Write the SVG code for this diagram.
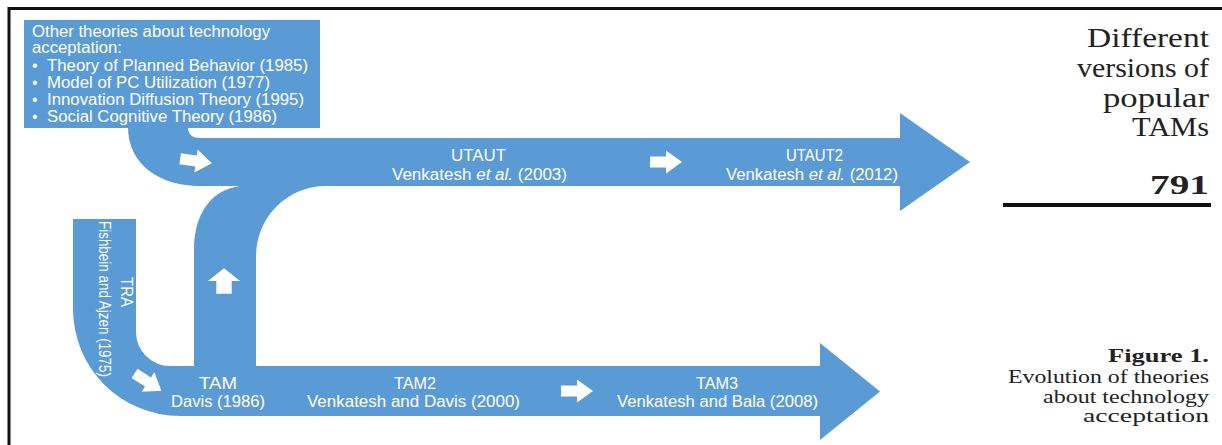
<svg xmlns="http://www.w3.org/2000/svg" xmlns:xlink="http://www.w3.org/1999/xlink" width="1222" height="445" viewBox="0 0 1222 445">
<style>
.b{fill:#5b9bd5}
.w{fill:#ffffff;font-family:"Liberation Sans",Arial,sans-serif;font-size:16px}
.s{fill:#222;font-family:"Liberation Serif","Times New Roman",serif}
.frame{stroke:#111;stroke-width:3;fill:none}
</style>
<defs>
<path id="ra" d="M-16,-5.5 H0 V-11.5 L16,0 L0,11.5 V5.5 H-16 Z" fill="#ffffff"/>
</defs>
<rect width="1222" height="445" fill="#ffffff"/>
<path class="frame" d="M9,445 V8.5 H1222"/>

<g id="bands">
<path class="b" d="M128,127 L188,127 Q188,138 200,138 L205,138 L205,186 L200,186 C160,186 128,165 128,127 Z"/>
<path class="b" d="M195,138 L900,138 L900,113 L970,162 L900,211 L900,186 L195,186 Z"/>
<path class="b" d="M194,416 L194,250 C194,215 210,190 240,186 L326,186 A70,70 0 0 0 256,256 L256,416 Z"/>
<path class="b" d="M73,219 L136,219 L136,332 A34,34 0 0 0 170,366 L185,366 L185,416 L180,416 A107,107 0 0 1 73,309 Z"/>
<path class="b" d="M180,366 L820,366 L820,343 L880,391.5 L820,440 L820,416 L180,416 Z"/>
</g>

<g id="others">
<rect class="b" x="24" y="20" width="296" height="108"/>
<text class="w" x="32" y="37" textLength="238" lengthAdjust="spacingAndGlyphs">Other theories about technology</text>
<text class="w" x="32" y="53" textLength="90" lengthAdjust="spacingAndGlyphs">acceptation:</text>
<text class="w" x="32" y="71">•</text>
<text class="w" x="47" y="71" textLength="261" lengthAdjust="spacingAndGlyphs">Theory of Planned Behavior (1985)</text>
<text class="w" x="32" y="88">•</text>
<text class="w" x="47" y="88" textLength="223" lengthAdjust="spacingAndGlyphs">Model of PC Utilization (1977)</text>
<text class="w" x="32" y="105">•</text>
<text class="w" x="47" y="105" textLength="257" lengthAdjust="spacingAndGlyphs">Innovation Diffusion Theory (1995)</text>
<text class="w" x="32" y="122">•</text>
<text class="w" x="47" y="122" textLength="230" lengthAdjust="spacingAndGlyphs">Social Cognitive Theory (1986)</text>
</g>

<g id="utaut">
<text class="w" x="451" y="161" textLength="55" lengthAdjust="spacingAndGlyphs">UTAUT</text>
<text class="w" x="392" y="180" textLength="175" lengthAdjust="spacingAndGlyphs">Venkatesh <tspan font-style="italic">et al.</tspan> (2003)</text>
</g>
<g id="utaut2">
<text class="w" x="786" y="161" textLength="57" lengthAdjust="spacingAndGlyphs">UTAUT2</text>
<text class="w" x="726" y="180" textLength="172" lengthAdjust="spacingAndGlyphs">Venkatesh <tspan font-style="italic">et al.</tspan> (2012)</text>
</g>
<g id="tra">
<text class="w" transform="translate(121,277) rotate(90)" textLength="30" lengthAdjust="spacingAndGlyphs">TRA</text>
<text class="w" transform="translate(99,221) rotate(90)" textLength="156" lengthAdjust="spacingAndGlyphs">Fishbein and Ajzen (1975)</text>
</g>
<g id="tam">
<text class="w" x="199" y="389" textLength="38" lengthAdjust="spacingAndGlyphs">TAM</text>
<text class="w" x="171" y="407" textLength="94" lengthAdjust="spacingAndGlyphs">Davis (1986)</text>
</g>
<g id="tam2">
<text class="w" x="394" y="389" textLength="42" lengthAdjust="spacingAndGlyphs">TAM2</text>
<text class="w" x="307" y="407" textLength="213" lengthAdjust="spacingAndGlyphs">Venkatesh and Davis (2000)</text>
</g>
<g id="tam3">
<text class="w" x="696" y="389" textLength="42" lengthAdjust="spacingAndGlyphs">TAM3</text>
<text class="w" x="617" y="407" textLength="201" lengthAdjust="spacingAndGlyphs">Venkatesh and Bala (2008)</text>
</g>

<g id="connectors">
<use xlink:href="#ra" transform="translate(196,161) rotate(8)"/>
<use xlink:href="#ra" transform="translate(666,162)"/>
<use xlink:href="#ra" transform="translate(577,391)"/>
<use xlink:href="#ra" transform="translate(224,281) rotate(-90) scale(0.8,1.4)"/>
<use xlink:href="#ra" transform="translate(148,382) rotate(33)"/>
</g>

<g id="caption">
<text class="s" x="1087" y="47" font-size="27" textLength="122" lengthAdjust="spacingAndGlyphs">Different</text>
<text class="s" x="1077" y="77" font-size="27" textLength="132" lengthAdjust="spacingAndGlyphs">versions of</text>
<text class="s" x="1103" y="107" font-size="27" textLength="106" lengthAdjust="spacingAndGlyphs">popular</text>
<text class="s" x="1132" y="136" font-size="27" textLength="77" lengthAdjust="spacingAndGlyphs">TAMs</text>
<text class="s" x="1150" y="194" font-size="28" font-weight="bold" textLength="59" lengthAdjust="spacingAndGlyphs">791</text>
<rect x="1003" y="203" width="208" height="4" fill="#111"/>
<text class="s" x="1108" y="362" font-size="18" font-weight="bold" textLength="101" lengthAdjust="spacingAndGlyphs">Figure 1.</text>
<text class="s" x="1008" y="383" font-size="18" textLength="201" lengthAdjust="spacingAndGlyphs">Evolution of theories</text>
<text class="s" x="1043" y="403" font-size="18" textLength="166" lengthAdjust="spacingAndGlyphs">about technology</text>
<text class="s" x="1083" y="422" font-size="18" textLength="126" lengthAdjust="spacingAndGlyphs">acceptation</text>
</g>
</svg>
